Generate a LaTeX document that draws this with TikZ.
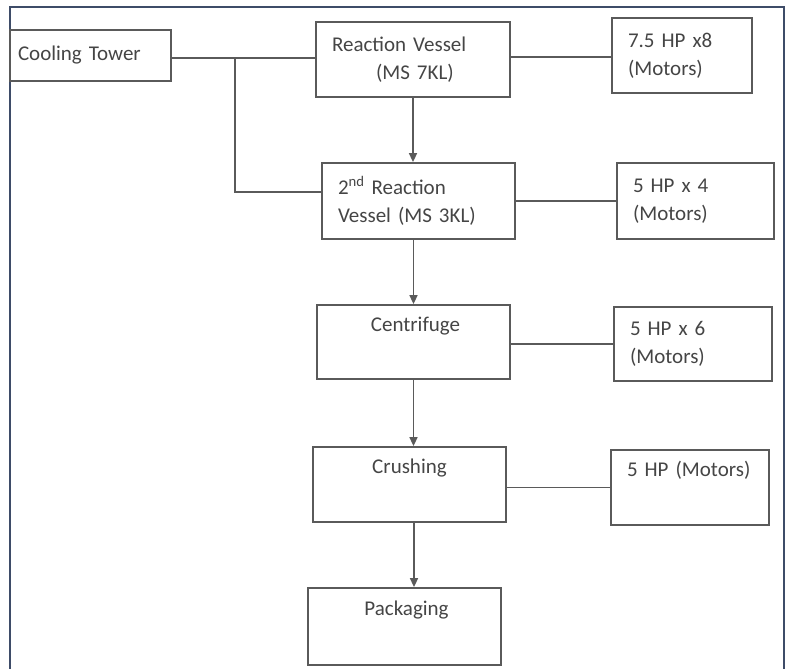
\documentclass[tikz,border=0pt]{standalone}
\usepackage{fontspec}
\setmainfont{Carlito}
\usetikzlibrary{arrows.meta}
\definecolor{linec}{HTML}{5A5A5A}
\definecolor{txtc}{HTML}{454545}
\definecolor{framec}{HTML}{3E4C68}
\begin{document}
\begin{tikzpicture}[x=1pt,y=-1pt,
  box/.style={draw=linec, line width=1.8pt, inner xsep=16pt, inner ysep=0pt,
    font=\fontsize{21}{28}\selectfont, text=txtc},
  lbox/.style={box, align=left},
  cbox/.style={box, align=center},
  conn/.style={draw=linec, line width=1.6pt},
  arr/.style={conn, -{Triangle[length=9pt,width=8pt]}}]
\useasboundingbox (0,0) rectangle (790,669);
% frame
\draw[framec, line width=2.5pt] (10,669) -- (10,7) -- (784,7) -- (784,669);
% boxes
\node[lbox, inner xsep=8pt, text width=145pt, minimum height=51pt] (ct) at (90.5,55.5) {Cooling Tower};
\node[lbox, text width=162pt, minimum height=75pt] (rv) at (413,59.5) {Reaction Vessel\\\hspace*{44pt}(MS 7KL)};
\node[lbox, text width=108pt, minimum height=75pt] (m1) at (682,55.5) {7.5 HP x8\\(Motors)};
\node[lbox, text width=161pt, minimum height=76pt] (rv2) at (418.5,201) {2\textsuperscript{nd} Reaction\\Vessel (MS 3KL)};
\node[lbox, text width=125pt, minimum height=76pt] (m2) at (695.5,201) {5 HP x 4\\(Motors)};
\node[cbox, text width=161pt, minimum height=74pt] (cf) at (413.5,342) {\hspace*{4pt}Centrifuge\\\strut};
\node[lbox, text width=126pt, minimum height=74pt] (m3) at (693,344) {5 HP x 6\\(Motors)};
\node[cbox, text width=161pt, minimum height=75pt] (cr) at (409.5,484.5) {Crushing\\\strut};
\node[lbox, text width=126pt, minimum height=75pt] (m4) at (690,487.5) {5~HP~(Motors)\\\strut};
\node[cbox, text width=161pt, minimum height=77pt] (pk) at (404.5,626.5) {\hspace*{4pt}Packaging\\\strut};
% connectors
\coordinate (j) at (235,58);
\draw[conn] ([yshift=1.5pt]rv.west -| ct.east) -- ([yshift=1.5pt]rv.west);
\draw[conn] (j) |- ([yshift=9pt]rv2.west);
\draw[conn] ([yshift=2.5pt]rv.east) -- ([yshift=2.5pt]rv.east -| m1.west);
\draw[arr] (rv.south) -- (rv.south |- rv2.north);
\draw[conn] (rv2.east) -- (m2.west);
\draw[arr] (rv2.south -| cf.north) -- (cf.north);
\draw[conn] (cf.east |- m3.west) -- (m3.west);
\draw[arr] (cf.south) -- (cf.south |- cr.north);
\draw[conn] (cr.east |- m4.west) -- (m4.west);
\draw[arr] ([xshift=4.5pt]cr.south) -- ([xshift=4.5pt]cr.south |- pk.north);
\end{tikzpicture}
\end{document}
